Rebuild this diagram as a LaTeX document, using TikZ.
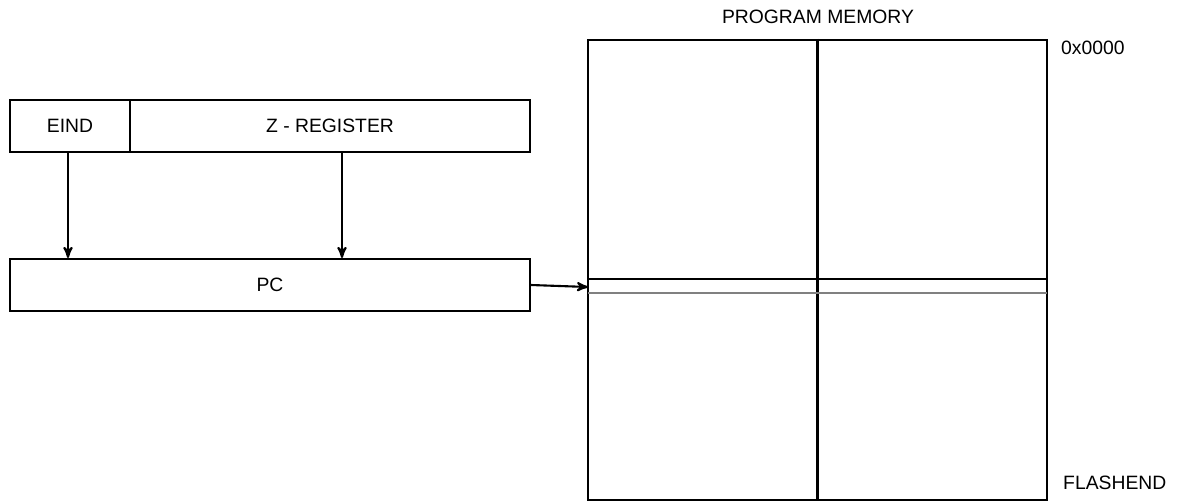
\documentclass[tikz,border=0pt]{standalone}
\usepackage{fontspec}
\setmainfont{Liberation Sans}
\usetikzlibrary{positioning, arrows}
\begin{document}
\begin{tikzpicture}[x=0.02cm,y=-0.02cm,font=\fontsize{11pt}{13pt}\selectfont,
	reg/.style={draw,line width=1.2pt,minimum height=1.04cm,inner sep=0pt},
	arr/.style={->,>=stealth',line width=1.2pt}]
	\useasboundingbox (0,0) rectangle (1201,501);
	\node (eind) at (70,126) [reg,minimum width=2.4cm] {EIND};
	\node (zreg) at (330,126) [reg,minimum width=8cm] {Z - REGISTER};
	\node (pc) at (270,285) [reg,minimum width=10.4cm] {PC};
	\node (mem) at (817.5,270) [draw,line width=1.2pt,minimum width=9.18cm,minimum height=9.2cm,inner sep=0pt] {};
	\draw[line width=1.2pt] (mem.north) -- (mem.south);
	\draw[line width=0.9pt] (588,279) coordinate (l1) -- (1047,279);
	\draw[line width=0.6pt,gray] (588,293) -- (1047,293);
	\coordinate (pcin) at (588,287);
	\node (title) at (818,17) {PROGRAM MEMORY};
	\node[anchor=west] (top) at (1055,48) {0x0000};
	\node[anchor=west] (bot) at (1057,483) {FLASHEND};
	\draw[arr] (eind.south -| 68,0) -- (pc.north -| 68,0);
	\draw[arr] (zreg.south -| 342,0) -- (pc.north -| 342,0);
	\draw[arr] (pc.east) -- (pcin);
\end{tikzpicture}
\end{document}
